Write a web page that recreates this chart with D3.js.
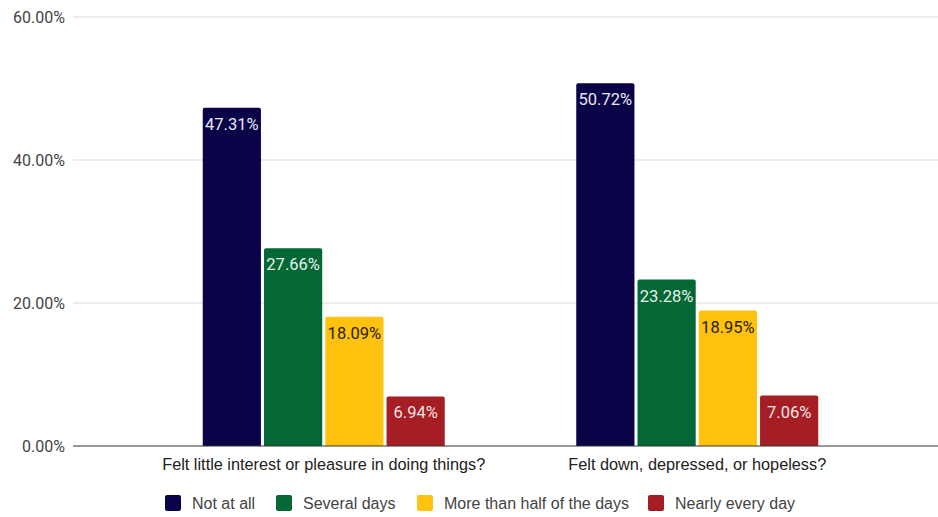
<!DOCTYPE html>
<html>
<head>
<meta charset="utf-8">
<script src="https://cdn.jsdelivr.net/npm/d3@7"></script>
<style>
  html, body { margin: 0; padding: 0; background: #fff; }
  svg { display: block; }
</style>
</head>
<body>
<svg id="chart" width="938" height="517"></svg>
<script>
// PHQ-2 style screening questions, share of respondents per answer
const categories = ["Felt little interest or pleasure in doing things?", "Felt down, depressed, or hopeless?"];
const seriesNames = ["Not at all", "Several days", "More than half of the days", "Nearly every day"];
const notAtAll = [47.31, 50.72];
const severalDays = [27.66, 23.28];
const moreThanHalf = [18.09, 18.95];
const nearlyEveryDay = [6.94, 7.06];
const yTicks = [0, 20, 40, 60];

const seriesValues = [notAtAll, severalDays, moreThanHalf, nearlyEveryDay];
const colors = ["#0b0348", "#036835", "#fec20f", "#a51e24"];
const labelColors = ["#e8e8f0", "#e8f0ea", "#2a2300", "#f4e4e4"];

const svg = d3.select("#chart");
const gridLeft = 73, gridRight = 938;
const plotTop = 17, plotBottom = 446;

const y = d3.scaleLinear().domain([0, 60]).range([plotBottom, plotTop]);
const x0 = d3.scaleBand().domain(categories).range([137, 884]).paddingInner(0).paddingOuter(0);
const groupWidth = 242;
const x1 = d3.scaleBand().domain(seriesNames).range([0, groupWidth]).paddingInner(0.05);

// gridlines
svg.append("g")
  .selectAll("line")
  .data(yTicks.filter(t => t > 0))
  .join("line")
  .attr("x1", gridLeft).attr("x2", gridRight)
  .attr("y1", d => y(d)).attr("y2", d => y(d))
  .attr("stroke", "#d9d9d9").attr("stroke-width", 1);

// y tick labels
svg.append("g")
  .selectAll("text")
  .data(yTicks)
  .join("text")
  .attr("x", 65)
  .attr("y", d => y(d) + 5.5)
  .attr("text-anchor", "end")
  .attr("font-family", "Roboto, 'Liberation Sans', sans-serif")
  .attr("font-size", 16)
  .attr("fill", "#444")
  .text(d => d3.format(".2f")(d) + "%");

// bars
const groups = svg.append("g")
  .selectAll("g")
  .data(categories)
  .join("g")
  .attr("transform", d => `translate(${x0(d) + (x0.bandwidth() - groupWidth) / 2},0)`);

groups.each(function(cat, ci) {
  const g = d3.select(this);
  seriesNames.forEach((s, si) => {
    const v = seriesValues[si][ci];
    const bx = x1(s), bw = x1.bandwidth();
    const top = y(v);
    g.append("path")
      .attr("d", () => {
        const r = 2;
        return `M${bx},${plotBottom} V${top + r} Q${bx},${top} ${bx + r},${top} H${bx + bw - r} Q${bx + bw},${top} ${bx + bw},${top + r} V${plotBottom} Z`;
      })
      .attr("fill", colors[si]);
    g.append("text")
      .attr("x", bx + bw / 2)
      .attr("y", top + 22)
      .attr("text-anchor", "middle")
      .attr("font-family", "Roboto, 'Liberation Sans', sans-serif")
      .attr("font-size", 16.5)
      .attr("fill", labelColors[si])
      .text(d3.format(".2f")(v) + "%");
  });
});

// baseline
svg.append("line")
  .attr("x1", gridLeft).attr("x2", gridRight)
  .attr("y1", plotBottom).attr("y2", plotBottom)
  .attr("stroke", "#333").attr("stroke-width", 1.2);

// category labels
svg.append("g")
  .selectAll("text")
  .data(categories)
  .join("text")
  .attr("x", d => x0(d) + x0.bandwidth() / 2)
  .attr("y", 470)
  .attr("text-anchor", "middle")
  .attr("font-family", "'Liberation Sans', Arial, sans-serif")
  .attr("font-size", 16.3)
  .attr("fill", "#222")
  .text(d => d);

// legend
const legendX = [165, 276, 417, 648];
const legend = svg.append("g")
  .selectAll("g")
  .data(seriesNames)
  .join("g")
  .attr("transform", (d, i) => `translate(${legendX[i]},495)`);
legend.append("rect")
  .attr("width", 16).attr("height", 16).attr("rx", 2)
  .attr("fill", (d, i) => colors[i]);
legend.append("text")
  .attr("x", 27).attr("y", 13.5)
  .attr("font-family", "'Liberation Sans', Arial, sans-serif")
  .attr("font-size", 16)
  .attr("fill", "#444")
  .text(d => d);
</script>
</body>
</html>
